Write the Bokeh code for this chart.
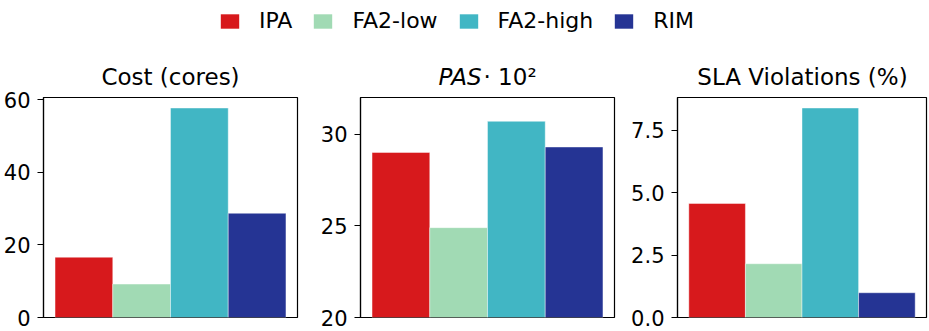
from bokeh.plotting import figure
from bokeh.layouts import column, row
from bokeh.models import Range1d, FixedTicker, Legend, LegendItem, ColumnDataSource
from bokeh.core.properties import value
from bokeh.embed import file_html
from bokeh.resources import INLINE

methods = ["IPA", "FA2-low", "FA2-high", "RIM"]
colors = ["#d7191c", "#a1dab4", "#41b6c4", "#253494"]
cost = [16.6, 9.2, 57.7, 28.7]
pas = [29.0, 24.9, 30.7, 29.3]
sla = [4.56, 2.15, 8.38, 0.99]
cost_ticks = [0, 20, 40, 60]
pas_ticks = [20, 25, 30]
sla_ticks = [0, 2.5, 5.0, 7.5]
sla_tick_labels = ["0.0", "2.5", "5.0", "7.5"]

FONT = "DejaVu Sans"
TICK_FS = "21px"
TITLE_FS = "23px"
LEG_FS = "22px"
FH = 220
TOTAL_W = 928
TOP_H = 90


def panel(vals, y0, y1, ticks, labels, fw, border_left, border_right):
    p = figure(frame_width=fw, frame_height=FH, output_backend="svg", toolbar_location=None,
               x_range=Range1d(-0.7, len(methods) - 0.3), y_range=Range1d(y0, y1),
               min_border_left=border_left, min_border_right=border_right, min_border_top=7,
               min_border_bottom=14)
    src = ColumnDataSource(dict(x=list(range(len(methods))), top=vals, color=colors))
    p.vbar(x="x", top="top", bottom=0, width=1.0, fill_color="color",
           line_color="white", line_width=0.6, line_alpha=0.7, source=src)
    p.xaxis.visible = False
    p.grid.visible = False
    ax = p.yaxis[0]
    ax.ticker = FixedTicker(ticks=ticks)
    if labels is not None:
        ax.major_label_overrides = {t: l for t, l in zip(ticks, labels)}
    ax.minor_tick_line_color = None
    ax.major_tick_out = 6
    ax.major_tick_in = 0
    ax.major_tick_line_width = 1.2
    ax.major_tick_line_color = "black"
    ax.axis_line_color = "black"
    ax.axis_line_width = 1.2
    ax.major_label_text_font = FONT
    ax.major_label_text_font_size = TICK_FS
    ax.major_label_text_color = "black"
    ax.major_label_standoff = 7
    p.outline_line_color = "black"
    p.outline_line_width = 1.2
    p.outline_line_alpha = 1.0
    return p


p1 = panel(cost, 0, 60.6, cost_ticks, None, 254, 43, 4)
p2 = panel(pas, 20, 32.0, pas_ticks, None, 254, 59, 4)
p3 = panel(sla, 0, 8.8, sla_ticks, sla_tick_labels, 249, 59, 2)

# top strip: legend + panel titles (pixel coordinates)
top = figure(width=TOTAL_W, height=TOP_H, output_backend="svg", toolbar_location=None,
             x_range=Range1d(0, TOTAL_W), y_range=Range1d(0, TOP_H),
             x_axis_type=None, y_axis_type=None, min_border=0)
top.outline_line_color = None
top.grid.visible = False

TY = 13.5
titles = ["Cost (cores)", "SLA Violations (%)"]
title_x = [170, 802]
top.text(x=title_x, y=[TY, TY], text=titles, text_align="center", text_baseline="alphabetic",
         text_font=value(FONT), text_font_size=TITLE_FS, text_color="black")
top.text(x=[481], y=[TY], text=["PAS"], text_align="right", text_baseline="alphabetic",
         text_font=value(FONT), text_font_size=TITLE_FS, text_font_style="italic",
         text_color="black")
top.text(x=[483], y=[TY], text=["\u00b7 10\u00b2"], text_align="left", text_baseline="alphabetic",
         text_font=value(FONT), text_font_size=TITLE_FS, text_color="black")

items = []
for m, c in zip(methods, colors):
    r = top.vbar(x=[0], top=[0], bottom=[0], width=0, fill_color=c, line_color=None)
    items.append(LegendItem(label=m, renderers=[r]))
leg = Legend(items=items, orientation="horizontal", location=(218, 57),
             glyph_width=23, glyph_height=18, label_standoff=18, spacing=19,
             padding=0, margin=0, border_line_alpha=0, background_fill_alpha=0,
             label_text_font=FONT, label_text_font_size=LEG_FS,
             label_text_color="black")
top.add_layout(leg, "center")

layout = column(top, row(p1, p2, p3, spacing=0), spacing=0)
open("out.html", "w").write(file_html(layout, INLINE))
